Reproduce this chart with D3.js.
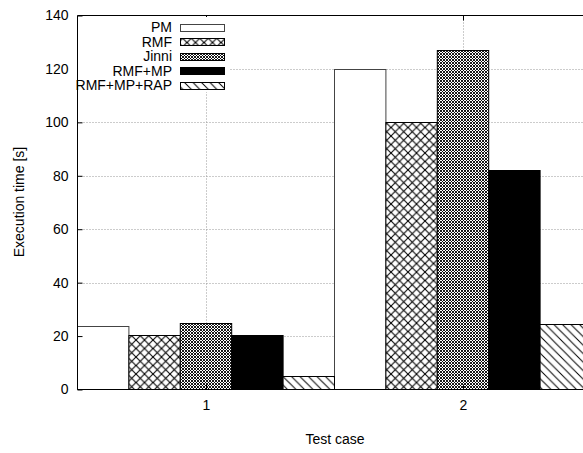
<!DOCTYPE html>
<html><head><meta charset="utf-8">
<script src="https://cdn.jsdelivr.net/npm/d3@7"></script>
<style>body{margin:0;background:#fff}svg{display:block}text{font-family:"Liberation Sans",Arial,sans-serif;fill:#000}</style>
</head><body>
<script>
const categories = [1, 2];
const seriesNames = ["PM", "RMF", "Jinni", "RMF+MP", "RMF+MP+RAP"];
const PM = [23.6, 119.8];
const RMF = [20.5, 100.1];
const Jinni = [25.0, 127.2];
const RMF_MP = [20.5, 82.1];
const RMF_MP_RAP = [5.1, 24.5];
const yTicks = [0, 20, 40, 60, 80, 100, 120, 140];
const seriesValues = [PM, RMF, Jinni, RMF_MP, RMF_MP_RAP];
const fills = ["#fff", "url(#pRMF)", "url(#pJinni)", "#000", "url(#pRAP)"];
const FS = "14px";

const W = 583, H = 453;
const svg = d3.select("body").append("svg").attr("width", W).attr("height", H);
const defs = svg.append("defs");
// patterns
let p = defs.append("pattern").attr("id","pRMF").attr("patternUnits","userSpaceOnUse").attr("width",8.5).attr("height",8.5);
p.append("rect").attr("width",8.5).attr("height",8.5).attr("fill","#fff");
p.append("path").attr("d","M0,0L8.5,8.5M8.5,0L0,8.5").attr("stroke","#000").attr("stroke-width",1.1);
p = defs.append("pattern").attr("id","pJinni").attr("patternUnits","userSpaceOnUse").attr("width",3).attr("height",3);
p.append("rect").attr("width",3).attr("height",3).attr("fill","#fff");
p.append("path").attr("d","M0,0L3,3M3,0L0,3").attr("stroke","#000").attr("stroke-width",0.9);
p = defs.append("pattern").attr("id","pRAP").attr("patternUnits","userSpaceOnUse").attr("width",8.5).attr("height",8.5);
p.append("rect").attr("width",8.5).attr("height",8.5).attr("fill","#fff");
p.append("path").attr("d","M0,0L8.5,8.5M-4.25,4.25L4.25,12.75M4.25,-4.25L12.75,4.25").attr("stroke","#000").attr("stroke-width",1);

const x = d3.scaleLinear().domain([0.5, 2.5]).range([77.5, 591.5]);
const y = d3.scaleLinear().domain([0, 140]).range([389.5, 15.5]);
const bw = 0.2;

// grid
const g = svg.append("g");
g.selectAll("line.gy").data(yTicks.slice(1, -1)).join("line")
  .attr("x1", x(0.5)).attr("x2", x(2.5)).attr("y1", d => Math.round(y(d))+0.5).attr("y2", d => Math.round(y(d))+0.5)
  .attr("stroke", "#999").attr("stroke-dasharray", "1,2").attr("stroke-width", 1);
g.selectAll("line.gx").data(categories).join("line")
  .attr("x1", d => Math.round(x(d))+0.5).attr("x2", d => Math.round(x(d))+0.5).attr("y1", y(0)).attr("y2", y(140))
  .attr("stroke", "#999").attr("stroke-dasharray", "1,2").attr("stroke-width", 1);

// bars
seriesValues.forEach((vals, i) => {
  svg.append("g").selectAll("rect").data(vals).join("rect")
    .attr("x", (d, j) => x(categories[j] + (i - 2) * bw - bw / 2))
    .attr("width", x(bw) - x(0))
    .attr("y", d => Math.round(y(d))+0.5)
    .attr("height", d => y(0) - Math.round(y(d)) - 0.5)
    .attr("fill", fills[i]).attr("stroke", i === 0 ? "#444" : "#000").attr("stroke-width", 1);
});

// frame
svg.append("path").attr("d", `M${x(2.5)},${y(140)}H${x(0.5)}V${y(0)}H${x(2.5)}`)
  .attr("fill", "none").attr("stroke", "#000").attr("stroke-width", 1);

// y axis ticks
const yAxis = d3.axisLeft(y).tickValues(yTicks).tickSize(-5).tickPadding(9);
const ya = svg.append("g").attr("transform", `translate(${x(0.5)},0)`).call(yAxis);
ya.select(".domain").remove();
ya.selectAll("text").style("font-size", FS).attr("font-family", "Liberation Sans, Arial, sans-serif");
// x axis ticks (bottom & top)
const xAxis = d3.axisBottom(x).tickValues(categories).tickFormat(d3.format("d")).tickSize(-5).tickPadding(11);
const xa = svg.append("g").attr("transform", `translate(0,${y(0)})`).call(xAxis);
xa.select(".domain").remove();
xa.selectAll("text").style("font-size", FS).attr("font-family", "Liberation Sans, Arial, sans-serif");
const xt = svg.append("g").attr("transform", `translate(0,${y(140)})`).call(d3.axisTop(x).tickValues(categories).tickSize(-5).tickFormat(""));
xt.select(".domain").remove();

// axis labels
svg.append("text").attr("x", 335).attr("y", 444).attr("text-anchor", "middle").style("font-size", FS).text("Test case");
svg.append("text").attr("transform", "translate(24,202) rotate(-90)").attr("text-anchor", "middle").style("font-size", FS).text("Execution time [s]");

// legend
const leg = svg.append("g");
leg.append("rect").attr("x", 78).attr("y", 17).attr("width", 152).attr("height", 75).attr("fill", "#fff");
seriesNames.forEach((n, i) => {
  const cy = 27 + i * 14.5;
  leg.append("text").attr("x", 172).attr("y", cy + 5).attr("text-anchor", "end").style("font-size", FS).text(n);
  leg.append("rect").attr("x", 180.5).attr("y", Math.round(cy - 3.5) + 0.5).attr("width", 44).attr("height", 7)
    .attr("fill", fills[i]).attr("stroke", i === 0 ? "#444" : "#000").attr("stroke-width", 1);
});
</script>
</body></html>
